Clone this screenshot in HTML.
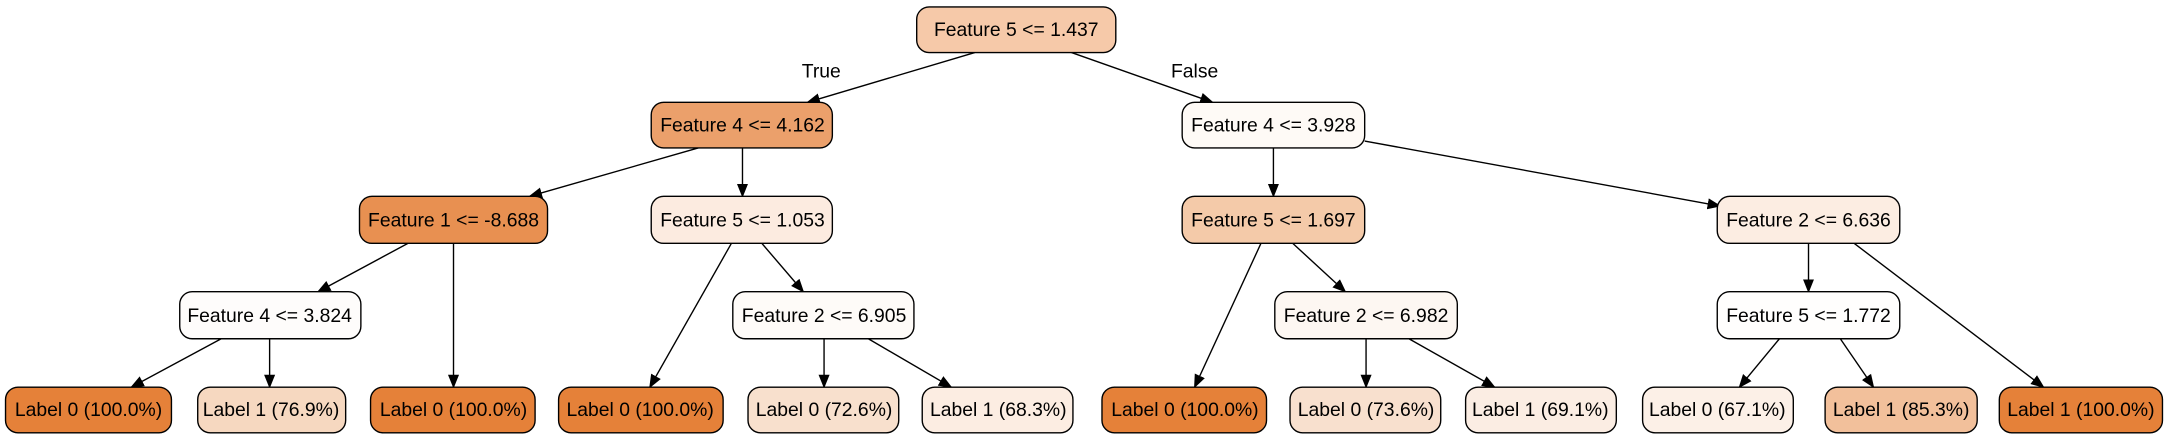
<!DOCTYPE html>
<html><head><meta charset="utf-8"><style>
html,body{margin:0;padding:0;background:#fff;}
svg{display:block;}
text{font-family:"Liberation Sans",Arial,sans-serif;font-size:14px;fill:#000;}
</style></head><body>
<svg width="2168" height="443" viewBox="0 0 1568 320.4" preserveAspectRatio="none" xmlns="http://www.w3.org/2000/svg">
<defs><marker id="a" markerWidth="10" markerHeight="10" refX="9" refY="5" orient="auto" markerUnits="userSpaceOnUse"><path d="M0,1 L10,5 L0,9 z" fill="#000"/></marker></defs>
<g stroke="#000" stroke-width="1" marker-end="url(#a)">
<line x1="705" y1="38" x2="584" y2="74"/>
<line x1="775" y1="38" x2="877" y2="74"/>
<line x1="505" y1="107" x2="383" y2="142"/>
<line x1="537" y1="107" x2="537" y2="142"/>
<line x1="295" y1="176" x2="230" y2="211"/>
<line x1="328" y1="176" x2="328" y2="280"/>
<line x1="160" y1="245" x2="95" y2="280"/>
<line x1="195" y1="245" x2="195" y2="280"/>
<line x1="529" y1="176" x2="470" y2="280"/>
<line x1="551" y1="176" x2="581" y2="211"/>
<line x1="596" y1="245" x2="596" y2="280"/>
<line x1="628" y1="245" x2="688" y2="280"/>
<line x1="921" y1="107" x2="921" y2="142"/>
<line x1="987" y1="102" x2="1244" y2="149"/>
<line x1="912" y1="176" x2="864" y2="280"/>
<line x1="935" y1="176" x2="973" y2="211"/>
<line x1="988" y1="245" x2="988" y2="280"/>
<line x1="1019" y1="245" x2="1081" y2="280"/>
<line x1="1308" y1="176" x2="1308" y2="211"/>
<line x1="1341" y1="176" x2="1478" y2="280"/>
<line x1="1287" y1="245" x2="1258" y2="280"/>
<line x1="1331" y1="245" x2="1355" y2="280"/>
</g>
<text x="594" y="56" text-anchor="middle">True</text>
<text x="864" y="56" text-anchor="middle">False</text>
<g stroke="#000" stroke-width="1">
<rect x="663" y="5" width="144" height="33" rx="9" fill="#f6c9a9"/>
<rect x="471" y="74" width="131" height="33" rx="9" fill="#eba06b"/>
<rect x="855" y="74" width="132" height="33" rx="9" fill="#fefaf6"/>
<rect x="260" y="142" width="136" height="34" rx="9" fill="#e89051"/>
<rect x="471" y="142" width="131" height="34" rx="9" fill="#fcebe0"/>
<rect x="855" y="142" width="132" height="34" rx="9" fill="#f4caa9"/>
<rect x="1242" y="142" width="132" height="34" rx="9" fill="#fcede2"/>
<rect x="130" y="211" width="131" height="34" rx="9" fill="#fefcfb"/>
<rect x="530" y="211" width="131" height="34" rx="9" fill="#fefbf8"/>
<rect x="922" y="211" width="132" height="34" rx="9" fill="#fdf7f2"/>
<rect x="1242" y="211" width="132" height="34" rx="9" fill="#fffefd"/>
<rect x="4" y="280" width="120" height="33" rx="9" fill="#e58139"/>
<rect x="143" y="280" width="107" height="33" rx="9" fill="#f6d8c0"/>
<rect x="268" y="280" width="119" height="33" rx="9" fill="#e58139"/>
<rect x="404" y="280" width="119" height="33" rx="9" fill="#e58139"/>
<rect x="541" y="280" width="109" height="33" rx="9" fill="#f8e0cd"/>
<rect x="667" y="280" width="109" height="33" rx="9" fill="#fcede2"/>
<rect x="797" y="280" width="119" height="33" rx="9" fill="#e58139"/>
<rect x="933" y="280" width="109" height="33" rx="9" fill="#f8e0ce"/>
<rect x="1060" y="280" width="109" height="33" rx="9" fill="#fbede3"/>
<rect x="1188" y="280" width="109" height="33" rx="9" fill="#fcf0e7"/>
<rect x="1320" y="280" width="110" height="33" rx="9" fill="#f2c09b"/>
<rect x="1446" y="280" width="118" height="33" rx="9" fill="#e58139"/>
</g>
<g text-anchor="middle">
<text x="735" y="26">Feature 5 &lt;= 1.437</text>
<text x="537" y="95">Feature 4 &lt;= 4.162</text>
<text x="921" y="95">Feature 4 &lt;= 3.928</text>
<text x="328" y="164">Feature 1 &lt;= -8.688</text>
<text x="537" y="164">Feature 5 &lt;= 1.053</text>
<text x="921" y="164">Feature 5 &lt;= 1.697</text>
<text x="1308" y="164">Feature 2 &lt;= 6.636</text>
<text x="195" y="233">Feature 4 &lt;= 3.824</text>
<text x="596" y="233">Feature 2 &lt;= 6.905</text>
<text x="988" y="233">Feature 2 &lt;= 6.982</text>
<text x="1308" y="233">Feature 5 &lt;= 1.772</text>
<text x="64" y="301">Label 0 (100.0%)</text>
<text x="196" y="301">Label 1 (76.9%)</text>
<text x="328" y="301">Label 0 (100.0%)</text>
<text x="463" y="301">Label 0 (100.0%)</text>
<text x="596" y="301">Label 0 (72.6%)</text>
<text x="722" y="301">Label 1 (68.3%)</text>
<text x="857" y="301">Label 0 (100.0%)</text>
<text x="988" y="301">Label 0 (73.6%)</text>
<text x="1114" y="301">Label 1 (69.1%)</text>
<text x="1242" y="301">Label 0 (67.1%)</text>
<text x="1375" y="301">Label 1 (85.3%)</text>
<text x="1505" y="301">Label 1 (100.0%)</text>
</g>
</svg>
</body></html>
